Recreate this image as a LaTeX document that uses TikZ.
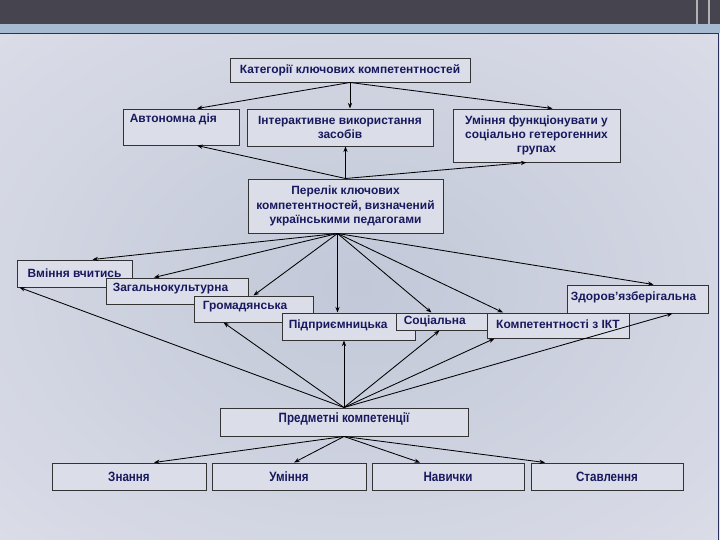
\documentclass[tikz,border=0pt]{standalone}
\usepackage{fontspec}
\setmainfont{Liberation Sans}
\newfontfamily\narrowsans[FakeStretch=0.86]{Liberation Sans}
\usetikzlibrary{arrows.meta,shadows}
\definecolor{slidemid}{HTML}{C2C8D8}
\definecolor{slideedge}{HTML}{E4E5EE}
\definecolor{boxfill}{HTML}{DBDEE8}
\definecolor{textnavy}{HTML}{18185E}
\definecolor{topband}{HTML}{46444F}
\definecolor{barblue}{HTML}{A6BAD2}
\definecolor{navyline}{HTML}{2A2F5E}
\pgfdeclareradialshading{slideglow}{\pgfpoint{0bp}{0bp}}{color(0bp)=(slidemid); color(50bp)=(slideedge); color(75bp)=(slideedge)}

\begin{document}
\begin{tikzpicture}[
	box/.style={shape=rectangle, draw=black!80, line width=0.7pt, fill=boxfill, drop shadow={shadow xshift=0.6pt, shadow yshift=-0.6pt, fill=black, opacity=0.45}},
	lbl/.style={text=textnavy, font=\bfseries\fontsize{8.5}{10.2}\selectfont, inner sep=0pt, align=center},
	nlbl/.style={text=textnavy, font=\narrowsans\bfseries\fontsize{9.6}{11}\selectfont, inner sep=0pt},
	wire/.style={line width=0.6pt, -{Stealth[length=4pt, width=3pt]}}]
	% Slide background:
	\useasboundingbox (0, 0) rectangle (18, 13.5);
	\fill[slideedge] (0, 0) rectangle (18, 13.5);
	\shade[shading=slideglow] (0, 0) rectangle (17.95, 12.675);
	\fill[topband] (0, 12.9) rectangle (18, 13.5);
	\fill[barblue] (0, 12.675) rectangle (18, 12.9);
	\draw[navyline, line width=0.6pt] (0, 12.675) -- (17.95, 12.675) -- (17.95, 0);
	\draw[gray!60, line width=1pt] (17.425, 12.9) -- (17.425, 13.5) (17.725, 12.9) -- (17.725, 13.5);
	% Paths, nodes and wires:
	\node[box, minimum width=6cm, minimum height=0.6cm](cat) at (8.75, 11.75){} node[lbl](catT) at (cat.center){Категорії ключових компетентностей};
	\node[box, minimum width=2.9cm, minimum height=0.9cm](auto) at (4.525, 10.325){} node[lbl, anchor=west](autoT) at ([xshift=0.175cm, yshift=-0.275cm]auto.north west){Автономна дія};
	\node[box, minimum width=4.65cm, minimum height=0.925cm](inter) at (8.5, 10.3125){} node[lbl](interT) at (inter.center){Інтерактивне використання\\засобів};
	\node[box, minimum width=4.175cm, minimum height=1.325cm](fun) at (13.4125, 10.1125){} node[lbl](funT) at (fun.center){Уміння функціонувати у\\соціально гетерогенних\\групах};
	\node[box, minimum width=4.875cm, minimum height=1.35cm](list) at (8.6375, 8.35){} node[lbl](listT) at (list.center){Перелік ключових\\компетентностей, визначений\\українськими педагогами};
	\node[box, minimum width=2.875cm, minimum height=0.675cm](learn) at (1.8625, 6.6625){} node[lbl](learnT) at (learn.center){Вміння вчитись};
	\node[box, minimum width=3.55cm, minimum height=0.65cm](cult) at (4.425, 6.225){} node[lbl, anchor=west](cultT) at ([xshift=0.175cm, yshift=0.05cm]cult.west){Загальнокультурна};
	\node[box, minimum width=2.975cm, minimum height=0.65cm](civ) at (6.3375, 5.775){} node[lbl, anchor=west](civT) at ([xshift=0.225cm, yshift=0.05cm]civ.west){Громадянська};
	\node[box, minimum width=3.325cm, minimum height=0.675cm](ent) at (8.7125, 5.3375){} node[lbl, anchor=west](entT) at ([xshift=0.175cm, yshift=0.03cm]ent.west){Підприємницька};
	\node[box, minimum width=2.275cm, minimum height=0.425cm](soc) at (11.0375, 5.4625){} node[lbl, anchor=west](socT) at ([xshift=0.2cm]soc.west){Соціальна};
	\node[box, minimum width=3.525cm, minimum height=0.7cm](health) at (15.9375, 6.025){} node[lbl](healthT) at ([xshift=-0.1cm, yshift=0.03cm]health.center){Здоров'язберігальна};
	\node[box, minimum width=3.55cm, minimum height=0.625cm](ict) at (13.95, 5.3625){} node[lbl](ictT) at ([yshift=0.03cm]ict.center){Компетентності з ІКТ};
	\node[box, minimum width=6.2cm, minimum height=0.7cm](subj) at (8.6, 2.95){} node[nlbl](subjT) at ([yshift=0.07cm]subj.center){Предметні компетенції};
	\node[box, minimum width=3.85cm, minimum height=0.675cm](know) at (3.225, 1.5875){} node[nlbl](knowT) at (know.center){Знання};
	\node[box, minimum width=3.85cm, minimum height=0.675cm](skill) at (7.225, 1.5875){} node[nlbl](skillT) at (skill.center){Уміння};
	\node[box, minimum width=3.8cm, minimum height=0.675cm](habit) at (11.2, 1.5875){} node[nlbl](habitT) at (habit.center){Навички};
	\node[box, minimum width=3.8cm, minimum height=0.675cm](att) at (15.175, 1.5875){} node[nlbl](attT) at (att.center){Ставлення};
	\coordinate (ls) at ([xshift=-0.2cm]list.south);
	\draw[wire] (cat.south) -- ([xshift=0.4cm]auto.north);
	\draw[wire] (cat.south) -- (cat.south |- inter.north);
	\draw[wire] (cat.south) -- ([xshift=0.4cm]fun.north);
	\draw[wire] (list.north) -- ([xshift=0.4cm]auto.south);
	\draw[wire] (list.north) -- (list.north |- inter.south);
	\draw[wire] (list.north) -- ([xshift=-0.25cm]fun.south);
	\draw[wire] (ls) -- ([xshift=0.45cm]learn.north);
	\draw[wire] (ls) -- ([xshift=-0.575cm]cult.north);
	\draw[wire] (ls) -- (civ.north);
	\draw[wire] (ls) -- (ls |- ent.north);
	\draw[wire] (ls) -- ([xshift=-0.25cm]soc.north);
	\draw[wire] (ls) -- ([xshift=-1.375cm]ict.north);
	\draw[wire] (ls) -- ([xshift=0.4cm]health.north);
	\draw[wire] (subj.north) -- ([xshift=0.075cm]learn.south west);
	\draw[wire] (subj.north) -- ([xshift=-0.75cm]civ.south);
	\draw[wire] (subj.north) -- (subj.north |- ent.south);
	\draw[wire] (subj.north) -- ([xshift=-0.05cm]soc.south);
	\draw[wire] (subj.north) -- ([xshift=0.2cm]ict.south west);
	\draw[wire] (subj.north) -- ([xshift=0.875cm]health.south);
	\draw[wire] (subj.south) -- ([xshift=0.625cm]know.north);
	\draw[wire] (subj.south) -- ([xshift=0.125cm]skill.north);
	\draw[wire] (subj.south) -- ([xshift=-0.7cm]habit.north);
	\draw[wire] (subj.south) -- ([xshift=-1.55cm]att.north);
\end{tikzpicture}
\end{document}
